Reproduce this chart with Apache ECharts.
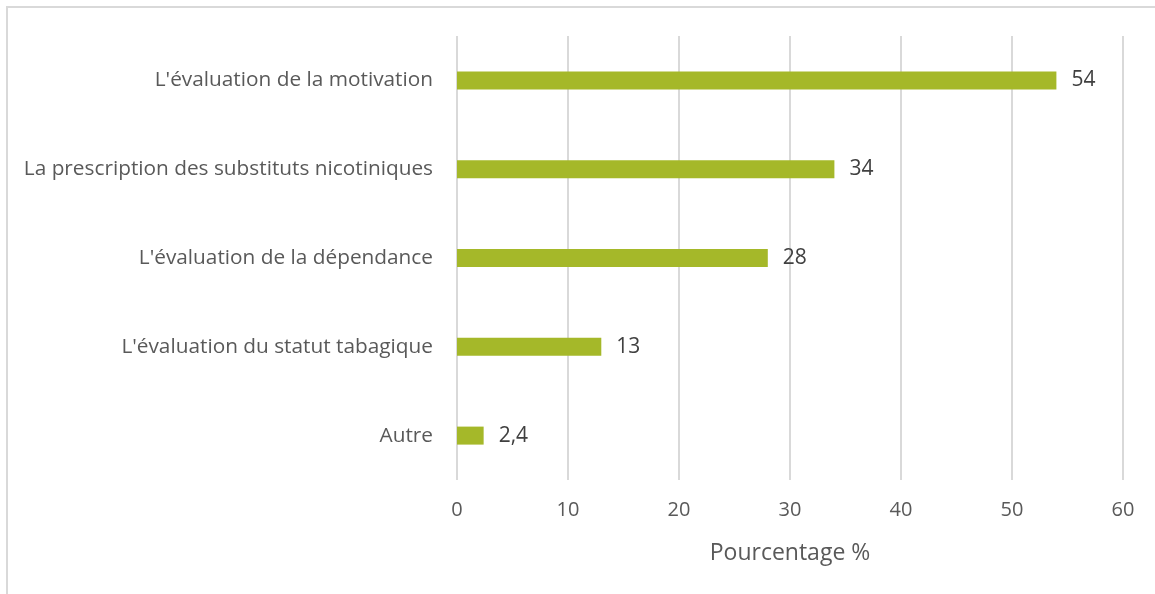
<!DOCTYPE html>
<html>
<head>
<meta charset="utf-8">
<script src="https://cdn.jsdelivr.net/npm/echarts@6/dist/echarts.min.js"></script>
<style>
  html, body { margin: 0; padding: 0; background: #fff; }
  #frame {
    position: absolute; left: 6px; top: 6px; width: 1149px; height: 588px;
    border-left: 2px solid #d9d9d9; border-top: 2px solid #d9d9d9;
  }
  #chart { position: absolute; left: 0; top: 0; width: 1155px; height: 594px; }
</style>
</head>
<body>
<div id="frame"></div>
<div id="chart"></div>
<script>
// bottom to top, as echarts draws category axis upward
const categories = [
  'Autre',
  "L'évaluation du statut tabagique",
  "L'évaluation de la dépendance",
  'La prescription des substituts nicotiniques',
  "L'évaluation de la motivation"
]
const values = [2.4, 13, 28, 34, 54]

const textColor = '#595959'
const barColor = '#a5b829'
const fontFamily = 'Open Sans, Noto Sans, sans-serif'

const chart = echarts.init(document.getElementById('chart'))
chart.setOption({
  backgroundColor: 'transparent',
  animation: false,
  grid: {left: 457, right: 32, top: 36, bottom: 114, containLabel: false},
  xAxis: {
    type: 'value',
    min: 0,
    max: 60,
    interval: 10,
    name: 'Pourcentage %',
    nameLocation: 'middle',
    nameGap: 62,
    nameTextStyle: {color: textColor, fontSize: 23, fontFamily},
    axisLine: {show: false},
    axisTick: {show: false},
    axisLabel: {color: textColor, fontSize: 20, fontFamily, margin: 20},
    splitLine: {lineStyle: {color: '#d9d9d9', width: 2}}
  },
  yAxis: {
    type: 'category',
    data: categories,
    axisLine: {show: false},
    axisTick: {show: false},
    axisLabel: {color: textColor, fontSize: 20.8, fontFamily, margin: 24}
  },
  series: [{
    type: 'bar',
    data: values,
    barWidth: 18,
    itemStyle: {color: barColor},
    label: {
      show: true,
      position: 'right',
      distance: 15,
      color: '#404040',
      fontSize: 21,
      fontFamily,
      formatter: (p) => String(p.value).replace('.', ',')
    }
  }]
})
</script>
</body>
</html>
